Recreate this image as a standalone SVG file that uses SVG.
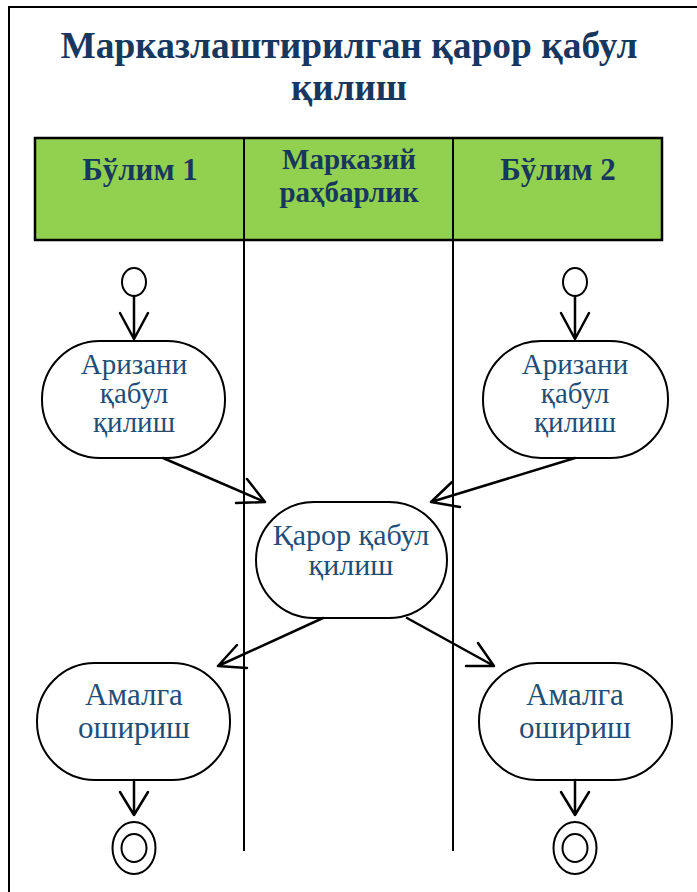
<svg xmlns="http://www.w3.org/2000/svg" width="697" height="892" viewBox="0 0 697 892">
<style>
.frame{fill:none;stroke:#000;stroke-width:2}
.hdr{fill:#92D050;stroke:#000;stroke-width:2.5}
.lane{stroke:#000;stroke-width:2;fill:none}
.title{font-family:"Liberation Serif",serif;font-weight:bold;font-size:37px;fill:#17375E;text-anchor:middle}
.htxt{font-family:"Liberation Serif",serif;font-weight:bold;font-size:29px;fill:#17375E;text-anchor:middle}
.act{fill:#fff;stroke:#000;stroke-width:2}
.ntxt{font-family:"Liberation Serif",serif;font-size:29px;fill:#1F4E79;text-anchor:middle}
.conn{stroke:#000;stroke-width:2.5;fill:none;stroke-linecap:round;stroke-linejoin:round}
.st{fill:#fff;stroke:#000;stroke-width:2}
</style>
<rect width="697" height="892" fill="#fff"/>
<rect class="frame" x="9" y="7" width="700" height="900"/>
<g id="title">
<text class="title" x="349" y="58" textLength="577" lengthAdjust="spacingAndGlyphs">Марказлаштирилган қарор қабул</text>
<text class="title" x="349" y="100">қилиш</text>
</g>
<g id="lanes">
<rect class="hdr" x="35" y="138" width="627" height="102"/>
<line class="lane" x1="244" y1="138" x2="244" y2="851"/>
<line class="lane" x1="453" y1="138" x2="453" y2="851"/>
<text class="htxt" x="140" y="180" style="font-size:31px">Бўлим 1</text>
<text class="htxt" x="349" y="169">Марказий</text>
<text class="htxt" x="349" y="202">раҳбарлик</text>
<text class="htxt" x="558" y="180" style="font-size:31px">Бўлим 2</text>
</g>
<g id="start1"><ellipse class="st" cx="134" cy="282" rx="12" ry="14"/></g>
<g id="start2"><ellipse class="st" cx="575" cy="282" rx="12" ry="14"/></g>
<g id="a1">
<rect class="act" x="42" y="341" width="183" height="117" rx="58" ry="58"/>
<text class="ntxt" x="134" y="374">Аризани</text>
<text class="ntxt" x="134" y="403">қабул</text>
<text class="ntxt" x="134" y="432">қилиш</text>
</g>
<g id="a2">
<rect class="act" x="483" y="341" width="185" height="117" rx="58" ry="58"/>
<text class="ntxt" x="575" y="374">Аризани</text>
<text class="ntxt" x="575" y="403">қабул</text>
<text class="ntxt" x="575" y="432">қилиш</text>
</g>
<g id="decide">
<rect class="act" x="256" y="502" width="191" height="116" rx="58" ry="58"/>
<text class="ntxt" x="351" y="545" style="font-size:30px">Қарор қабул</text>
<text class="ntxt" x="351" y="575" style="font-size:30px">қилиш</text>
</g>
<g id="do1">
<rect class="act" x="37" y="663" width="193" height="117" rx="58" ry="58"/>
<text class="ntxt" x="134" y="705" style="font-size:31px">Амалга</text>
<text class="ntxt" x="134" y="738" style="font-size:31px">ошириш</text>
</g>
<g id="do2">
<rect class="act" x="479" y="663" width="193" height="117" rx="58" ry="58"/>
<text class="ntxt" x="575" y="705" style="font-size:31px">Амалга</text>
<text class="ntxt" x="575" y="738" style="font-size:31px">ошириш</text>
</g>
<g id="end1">
<ellipse class="st" cx="134" cy="848" rx="21.5" ry="26"/>
<ellipse class="st" cx="134" cy="848" rx="12.5" ry="14"/>
</g>
<g id="end2">
<ellipse class="st" cx="575" cy="848" rx="21.5" ry="26"/>
<ellipse class="st" cx="575" cy="848" rx="12.5" ry="14"/>
</g>
<g id="connectors">
<path class="conn" d="M134 296 L134 339 M120 313 L134 339 L148 313"/>
<path class="conn" d="M575 296 L575 339 M561 313 L575 339 L589 313"/>
<path class="conn" d="M163 458 L265 502 M247 479 L265 502 L236 503"/>
<path class="conn" d="M575 458 L431 502 M452 482 L431 502 L460 507"/>
<path class="conn" d="M323 618 L218 666 M237 645 L218 666 L247 668"/>
<path class="conn" d="M407 618 L494 666 M478 643 L494 666 L466 666"/>
<path class="conn" d="M134 780 L134 815 M120 792 L134 815 L148 792"/>
<path class="conn" d="M575 780 L575 815 M561 792 L575 815 L589 792"/>
</g>
</svg>
